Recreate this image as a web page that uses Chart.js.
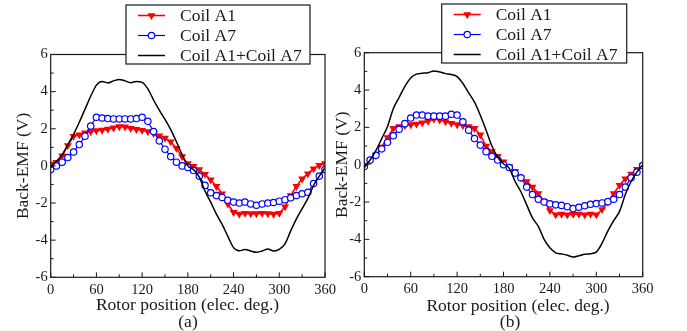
<!DOCTYPE html>
<html><head><meta charset="utf-8">
<script src="https://cdn.jsdelivr.net/npm/chart.js@4.4.0/dist/chart.umd.min.js"></script>
<style>
html,body{margin:0;padding:0;background:#fff;width:687px;height:331px;overflow:hidden;}
canvas{position:absolute;top:0;}
#ca{left:0px;}
#cb{left:330px;}
</style></head><body>
<canvas id="ca" width="340" height="331"></canvas>
<canvas id="cb" width="357" height="331"></canvas>
<script>
// Rotor position (elec. deg.)
const angles = [0,7.5,15,22.5,30,37.5,45,52.5,60,67.5,75,82.5,90,97.5,105,112.5,120,127.5,135,142.5,150,157.5,165,172.5,180,
  187.5,195,202.5,210,217.5,225,232.5,240,247.5,255,262.5,270,277.5,285,292.5,300,307.5,315,322.5,330,337.5,345,352.5,360];

const seriesNames = ['Coil A1','Coil A7','Coil A1+Coil A7'];

// (a)
const aCoilA1 = [0.1,0.2,0.55,1.1,1.6,1.68,1.78,1.85,1.9,1.93,1.98,2.05,2.12,2.1,2.02,1.97,1.92,1.85,1.75,1.62,1.5,1.3,0.95,0.5,0.12,
  -0.02,-0.2,-0.45,-0.75,-1.1,-1.5,-2.05,-2.5,-2.6,-2.55,-2.57,-2.57,-2.55,-2.57,-2.6,-2.55,-2.2,-1.6,-1.1,-0.7,-0.42,-0.15,0.03,0.12];
const aCoilA7 = [-0.2,0.0,0.2,0.45,0.75,1.15,1.6,2.15,2.62,2.58,2.55,2.53,2.53,2.53,2.53,2.55,2.62,2.4,1.85,1.35,0.9,0.5,0.2,0.0,-0.08,
  -0.25,-0.55,-1.05,-1.45,-1.6,-1.7,-1.85,-1.95,-2.0,-1.95,-2.05,-2.12,-2.05,-2.0,-1.97,-1.9,-1.82,-1.72,-1.6,-1.5,-1.42,-0.95,-0.55,-0.2];
const aSum = [-0.1,0.25,0.6,1.15,1.7,2.35,3.05,3.75,4.35,4.55,4.47,4.58,4.66,4.58,4.48,4.55,4.5,4.15,3.55,3.0,2.5,1.95,1.3,0.6,0.0,
  -0.2,-0.6,-1.35,-1.95,-2.6,-3.15,-3.8,-4.4,-4.57,-4.5,-4.58,-4.65,-4.58,-4.48,-4.58,-4.5,-4.2,-3.5,-2.85,-2.3,-1.75,-1.05,-0.55,-0.1];

// (b)
const bCoilA1 = [-0.05,0.2,0.5,0.95,1.45,1.95,2.05,2.1,2.15,2.18,2.25,2.33,2.45,2.4,2.3,2.22,2.15,2.1,2.05,1.95,1.6,1.0,0.7,0.45,0.15,
  -0.1,-0.35,-0.7,-0.9,-1.2,-1.55,-1.95,-2.45,-2.68,-2.65,-2.68,-2.65,-2.65,-2.68,-2.65,-2.68,-2.4,-2.0,-1.55,-1.1,-0.75,-0.5,-0.25,-0.05];
const bCoilA7 = [-0.1,0.25,0.5,0.85,1.2,1.55,1.9,2.2,2.5,2.66,2.66,2.6,2.6,2.6,2.6,2.7,2.66,2.3,1.85,1.4,1.05,0.7,0.45,0.25,0.0,
  -0.15,-0.45,-0.7,-1.2,-1.6,-1.85,-2.0,-2.1,-2.15,-2.18,-2.25,-2.35,-2.28,-2.2,-2.12,-2.08,-2.05,-1.98,-1.85,-1.6,-1.2,-0.7,-0.4,-0.05];
const bSum = [-0.15,0.25,0.75,1.4,2.05,3.0,3.6,4.2,4.65,4.85,4.9,4.93,5.02,4.97,4.88,4.83,4.72,4.35,3.85,3.35,2.65,1.85,1.0,0.4,0.05,
  -0.2,-0.9,-1.45,-2.15,-2.85,-3.3,-4.0,-4.45,-4.72,-4.78,-4.85,-4.95,-4.88,-4.8,-4.77,-4.68,-4.2,-3.55,-3.0,-2.5,-1.6,-0.9,-0.4,0.0];

// ticks
const xMajorTicks = [0,60,120,180,240,300,360];
const xMinorTicks = [30,90,150,210,270,330];
const yMajorTicks = [-6,-4,-2,0,2,4,6];
const yMinorTicks = [-5,-3,-1,1,3,5];

const SERIF = '"Liberation Serif", "Times New Roman", serif';
const INK = '#1a1a1a';

function pts(vals){ return angles.map((a,i)=>({x:a, y:vals[i]})); }

const decor = {
  id:'decor',
  afterDatasetsDraw(chart, args, o){
    const {ctx, chartArea:{left,right,top,bottom}, scales:{x,y}} = chart;
    ctx.save();
    ctx.strokeStyle = INK; ctx.lineWidth = 1.2;
    ctx.strokeRect(left, top, right-left, bottom-top);
    ctx.lineWidth = 1;
    ctx.beginPath();
    xMajorTicks.forEach(v=>{const px=x.getPixelForValue(v); ctx.moveTo(px,bottom); ctx.lineTo(px,bottom-5);});
    xMinorTicks.forEach(v=>{const px=x.getPixelForValue(v); ctx.moveTo(px,bottom); ctx.lineTo(px,bottom-3);});
    yMajorTicks.forEach(v=>{const py=y.getPixelForValue(v); ctx.moveTo(left,py); ctx.lineTo(left+5,py);});
    yMinorTicks.forEach(v=>{const py=y.getPixelForValue(v); ctx.moveTo(left,py); ctx.lineTo(left+3,py);});
    ctx.stroke();
    ctx.restore();
  },
  afterDraw(chart, args, o){
    const {ctx, chartArea:{left,right,top,bottom}} = chart;
    ctx.save();
    ctx.fillStyle = INK;
    ctx.font = '17.5px ' + SERIF;
    ctx.textAlign = 'center'; ctx.textBaseline = 'middle';
    ctx.fillText('Rotor position (elec. deg.)', o.xTitleX, o.xTitleY);
    ctx.fillText(o.letter, o.letterX, o.letterY);
    ctx.save();
    ctx.translate(o.yTitleX, (top+bottom)/2);
    ctx.rotate(-Math.PI/2);
    ctx.fillText('Back-EMF (V)', 0, 0);
    ctx.restore();
    // legend
    const L = o.legend;
    ctx.fillStyle = '#fff';
    ctx.fillRect(L.x, L.y, L.w, L.h);
    ctx.strokeStyle = INK; ctx.lineWidth = 1.2;
    ctx.strokeRect(L.x, L.y, L.w, L.h);
    const ds = chart.data.datasets;
    const order = [0,1,2];
    order.forEach((k,i)=>{
      const d = ds[k];
      const cy = L.y + 10.5 + i*20;
      ctx.strokeStyle = d.borderColor; ctx.lineWidth = d.borderWidth;
      ctx.beginPath(); ctx.moveTo(L.x+12, cy); ctx.lineTo(L.x+39, cy); ctx.stroke();
      const mx = L.x + 25.5;
      if (d.pointStyle === 'triangle') {
        ctx.fillStyle = d.pointBackgroundColor;
        const r = d.pointRadius;
        ctx.beginPath();
        ctx.moveTo(mx - r*0.87, cy - r*0.5);
        ctx.lineTo(mx + r*0.87, cy - r*0.5);
        ctx.lineTo(mx, cy + r);
        ctx.closePath(); ctx.fill();
      } else if (d.pointStyle === 'circle' && d.pointRadius > 0) {
        ctx.fillStyle = d.pointBackgroundColor;
        ctx.strokeStyle = d.pointBorderColor; ctx.lineWidth = d.pointBorderWidth;
        ctx.beginPath(); ctx.arc(mx, cy, d.pointRadius, 0, Math.PI*2); ctx.fill(); ctx.stroke();
      }
      ctx.fillStyle = INK;
      ctx.font = '17.5px ' + SERIF;
      ctx.textAlign = 'left'; ctx.textBaseline = 'middle';
      ctx.fillText(d.label, L.x + 54, cy + 1);
    });
    ctx.restore();
  }
};

function makeChart(id, A1, A7, S, g){
  const canvas = document.getElementById(id);
  return new Chart(canvas, {
    type:'line',
    data:{
      datasets:[
        {label:seriesNames[0], data:pts(A1), borderColor:'#ff0000', backgroundColor:'#ff0000', borderWidth:1.6,
         pointStyle:'triangle', rotation:180, pointRadius:4.6, pointBackgroundColor:'#ff0000', pointBorderColor:'#ff0000',
         pointBorderWidth:0, order:3},
        {label:seriesNames[1], data:pts(A7), borderColor:'#0000ff', backgroundColor:'#ffffff', borderWidth:1.2,
         pointStyle:'circle', pointRadius:3.2, pointBackgroundColor:'#ffffff', pointBorderColor:'#0000ff',
         pointBorderWidth:1.2, order:2},
        {label:seriesNames[2], data:pts(S), borderColor:'#000000', borderWidth:1.5, pointRadius:0,
         pointStyle:false, cubicInterpolationMode:'monotone', order:1}
      ]
    },
    options:{
      responsive:false, animation:false, events:[],
      layout:{padding:{left:0, top:g.top, right:g.W-g.right, bottom:0}},
      plugins:{legend:{display:false}, tooltip:{enabled:false},
        decor:g.decor},
      scales:{
        x:{type:'linear', min:0, max:360,
           ticks:{stepSize:60, color:INK, font:{family:SERIF, size:14.5}, padding:4, maxRotation:0},
           grid:{display:false, drawTicks:false}, border:{display:false},
           afterFit:(s)=>{s.height = g.H - g.bottom;}},
        y:{type:'linear', min:-6, max:6,
           ticks:{stepSize:2, color:INK, font:{family:SERIF, size:14.5}, padding:3},
           grid:{display:false, drawTicks:false}, border:{display:false},
           afterFit:(s)=>{s.width = g.left;}}
      }
    },
    plugins:[decor]
  });
}

makeChart('ca', aCoilA1, aCoilA7, aSum, {W:340, H:331, left:50.7, right:325, top:54.5, bottom:277.3,
  decor:{letter:'(a)', xTitleX:187.5, xTitleY:305, letterX:188, letterY:322.5, yTitleX:23.5,
         legend:{x:126, y:5, w:184, h:59}}});
makeChart('cb', bCoilA1, bCoilA7, bSum, {W:357, H:331, left:34.3, right:312.7, top:52.7, bottom:276.7,
  decor:{letter:'(b)', xTitleX:188, xTitleY:306.5, letterX:180, letterY:322.5, yTitleX:12,
         legend:{x:111.7, y:4, w:185, h:59}}});
</script>
</body></html>
